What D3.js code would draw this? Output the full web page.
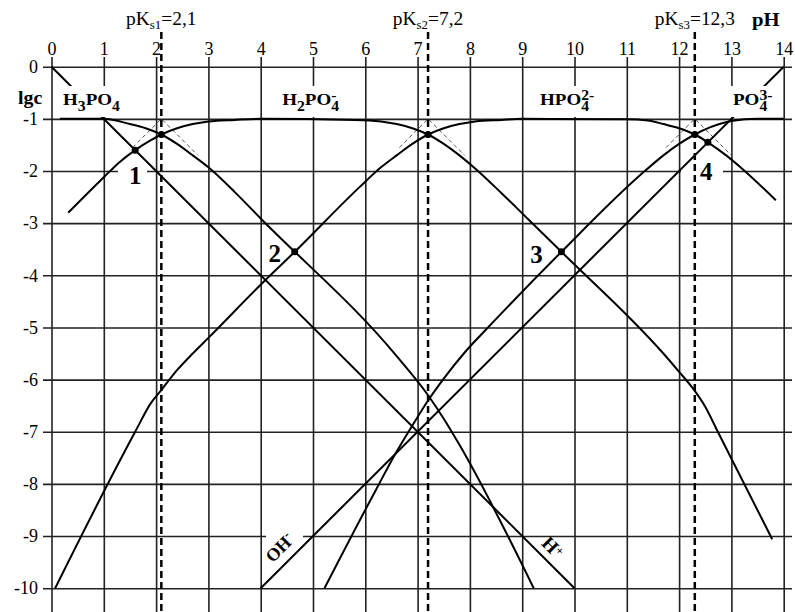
<!DOCTYPE html>
<html>
<head>
<meta charset="utf-8">
<script src="https://cdn.jsdelivr.net/npm/d3@7"></script>
<style>
body{margin:0;background:#fff}
svg{display:block}
text{font-family:"Liberation Serif","Times New Roman",serif}
</style>
</head>
<body>
<div id="chart"></div>
<script>
// ticks
var phTicks = d3.range(0, 15);
var lgTicks = d3.range(0, -11, -1);

// acid constants shown on top
var pKs = [2.1, 7.2, 12.3];
var pKTexts = ["2,1", "7,2", "12,3"];

// species curves, [pH, lgc]
var h3po4 = [[0.16,-1],[1.0,-1.0],[1.5,-1.1],[1.8,-1.18],[2.1,-1.3],[2.4,-1.48],[2.7,-1.7],[3.0,-1.93],[3.5,-2.4],[4.0,-2.91],
             [6.6,-5.55],[7.2,-6.3],[7.5,-6.75],[7.8,-7.25],[9.22,-10]];
var h2po4 = [[0.32,-2.8],[1.0,-2.12],[1.3,-1.83],[1.6,-1.6],[1.9,-1.41],[2.1,-1.3],[2.4,-1.18],[2.7,-1.1],[3.0,-1.05],[3.5,-1.02],
             [4.0,-1.0],[5.8,-1.02],[6.3,-1.05],[6.6,-1.1],[6.9,-1.18],[7.2,-1.3],[7.5,-1.48],[7.8,-1.7],[8.1,-1.95],[8.6,-2.42],
             [9.1,-2.91],[9.75,-3.55],[11.7,-5.5],[12.0,-5.85],[12.25,-6.15],[12.5,-6.52],[12.75,-7.02],[13.78,-9.06]];
var hpo4 = [[0.07,-10],[1.6,-7.0],[1.9,-6.45],[2.1,-6.2],[2.4,-5.82],[2.7,-5.5],[3.0,-5.2],[4.0,-4.18],[4.65,-3.55],[5.9,-2.3],
            [6.3,-1.93],[6.6,-1.7],[6.9,-1.48],[7.2,-1.3],[7.5,-1.18],[7.8,-1.1],[8.1,-1.05],[8.6,-1.02],[9.0,-1.0],[11.0,-1.01],
            [11.4,-1.03],[11.7,-1.1],[12.0,-1.18],[12.3,-1.3],[12.55,-1.45],[12.9,-1.7],[13.2,-1.95],[13.85,-2.56]];
var po4 = [[5.22,-10],[6.2,-8.12],[6.6,-7.38],[6.9,-6.88],[7.2,-6.4],[7.5,-5.98],[7.9,-5.48],[8.3,-5.05],[9.75,-3.55],[11.3,-2.04],
           [11.7,-1.7],[12.0,-1.48],[12.3,-1.3],[12.6,-1.16],[13.0,-1.04],[13.5,-1.0],[14,-1]];

// water lines
var hLine = [[0,0],[10,-10]];
var ohLine = [[4,-10],[14,0]];

// thin dashed asymptotes near each pK
var asymptotes = [
  [[1.55,-1.55],[2.1,-1.0],[2.8,-1.7]],
  [[6.65,-1.55],[7.2,-1.0],[7.9,-1.7]],
  [[11.75,-1.55],[12.3,-1.0],[13.0,-1.7]]
];

// marked points
var pKDots = [[2.1,-1.3],[7.2,-1.3],[12.3,-1.3]];
var numDots = [[1.6,-1.6],[4.65,-3.55],[9.75,-3.55],[12.55,-1.45]];
var numTexts = ["1","2","3","4"];

var W = 795, H = 612;
var svg = d3.select("#chart").append("svg").attr("width", W).attr("height", H);
svg.append("rect").attr("width", W).attr("height", H).attr("fill", "#fff");

var x = d3.scaleLinear().domain([0, 14]).range([51.5, 783.7]);
var y = d3.scaleLinear().domain([0, -10]).range([66.7, 588.2]);

var gridTop = 57, gridBottom = 612, gridLeft = 43, gridRight = 792;
var serif = "Liberation Serif, Times New Roman, serif";

//////////////// grid with tick labels ////////////////
var xAxis = svg.append("g")
  .attr("transform", "translate(0," + gridTop + ")")
  .call(d3.axisTop(x).tickValues(phTicks).tickSizeInner(-(gridBottom - gridTop)).tickSizeOuter(0)
    .tickPadding(2).tickFormat(function(d){ return String(d); }));
var yAxis = svg.append("g")
  .attr("transform", "translate(" + gridLeft + ",0)")
  .call(d3.axisLeft(y).tickValues(lgTicks).tickSizeInner(-(gridRight - gridLeft)).tickSizeOuter(0)
    .tickPadding(5).tickFormat(function(d){ return String(d); }));

[xAxis, yAxis].forEach(function(a){
  a.select(".domain").remove();
  a.attr("font-size", 18).attr("font-family", serif);
  a.selectAll("line").attr("stroke", "#222").attr("stroke-width", 1.6);
  a.selectAll("text").attr("fill", "#000");
});

//////////////// gaps in grid for the small labels ////////////////
var gaps = svg.append("g").attr("fill", "#fff");
gaps.append("rect").attr("x", 118).attr("y", 160).attr("width", 29).attr("height", 22);
gaps.append("rect").attr("x", 681).attr("y", 160).attr("width", 42).attr("height", 22);
gaps.append("rect").attr("x", 266).attr("y", 529).attr("width", 37).attr("height", 14);

//////////////// asymptotes ////////////////
var lin = d3.line().x(function(d){ return x(d[0]); }).y(function(d){ return y(d[1]); });
svg.append("g").selectAll("path").data(asymptotes).join("path")
  .attr("d", lin)
  .attr("fill", "none").attr("stroke", "#555").attr("stroke-width", 1)
  .attr("stroke-dasharray", "4,3");

//////////////// curves ////////////////
var smooth = d3.line().curve(d3.curveMonotoneX)
  .x(function(d){ return x(d[0]); }).y(function(d){ return y(d[1]); });

svg.append("g").selectAll("path").data([h3po4, h2po4, hpo4, po4]).join("path")
  .attr("d", smooth)
  .attr("fill", "none").attr("stroke", "#000").attr("stroke-width", 2);

svg.append("g").selectAll("path").data([hLine, ohLine]).join("path")
  .attr("d", lin)
  .attr("fill", "none").attr("stroke", "#000").attr("stroke-width", 2);

//////////////// species labels ////////////////
var labelLayer = svg.append("g");

// k: 0 normal, 1 subscript, 2 superscript stacked over the preceding subscript
function species(parts, px, base, sx) {
  var g = labelLayer.append("g").attr("transform", "translate(" + px + "," + base + ") scale(" + sx + ",1)");
  var t = g.append("text").attr("font-weight", "bold").attr("font-size", 17).attr("fill", "#000");
  var cur = 0, lastSub = null;
  parts.forEach(function(p){
    var target = p[1] === 1 ? 6 : (p[1] === 2 ? -5 : 0);
    var ts = t.append("tspan").text(p[0]);
    if (p[1] !== 0) ts.attr("font-size", 14);
    if (target !== cur) ts.attr("dy", target - cur);
    if (p[1] === 2 && lastSub) ts.attr("dx", -lastSub.node().getComputedTextLength());
    cur = target;
    if (p[1] === 1) lastSub = ts;
  });
  var bb = g.node().getBBox();
  g.insert("rect", "text")
    .attr("x", bb.x - 2.5).attr("width", bb.width + 5)
    .attr("y", 86 - base).attr("height", 31)
    .attr("fill", "#fff");
}

species([["H",0],["3",1],["PO",0],["4",1]], x(0.22), 105, 1.12);
species([["H",0],["2",1],["PO",0],["4",1],["-",2]], x(4.41), 105, 1.12);
species([["HPO",0],["4",1],["2-",2]], x(9.34), 105, 1.12);
species([["PO",0],["4",1],["3-",2]], x(13.03), 105, 1.12);

//////////////// dots ////////////////
svg.append("g").selectAll("circle").data(pKDots.concat(numDots)).join("circle")
  .attr("cx", function(d){ return x(d[0]); })
  .attr("cy", function(d){ return y(d[1]); })
  .attr("r", 3.5).attr("fill", "#000");

//////////////// pK lines ////////////////
svg.append("g").selectAll("line").data(pKs).join("line")
  .attr("x1", function(d){ return x(d); }).attr("x2", function(d){ return x(d); })
  .attr("y1", 32).attr("y2", gridBottom)
  .attr("stroke", "#000").attr("stroke-width", 2.5).attr("stroke-dasharray", "7,4");

var pkLab = svg.append("g").selectAll("g").data(pKs).join("g")
  .attr("transform", function(d){ return "translate(" + x(d) + ",25) scale(1.08,1)"; })
  .append("text").attr("text-anchor", "middle").attr("font-size", 18).attr("fill", "#000");
pkLab.append("tspan").text("pK");
pkLab.append("tspan").attr("font-size", 12).attr("dy", 4).text(function(d, i){ return "s" + (i + 1); });
pkLab.append("tspan").attr("dy", -4).text(function(d, i){ return "=" + pKTexts[i]; });

//////////////// numbers ////////////////
var numOffsets = [[0, 34], [-20, 10.5], [-25, 11.5], [-1.5, 38]];
svg.append("g").selectAll("text").data(numDots).join("text")
  .attr("x", function(d, i){ return x(d[0]) + numOffsets[i][0]; })
  .attr("y", function(d, i){ return y(d[1]) + numOffsets[i][1]; })
  .attr("text-anchor", "middle").attr("font-weight", "bold").attr("font-size", 25).attr("fill", "#000")
  .text(function(d, i){ return numTexts[i]; });

//////////////// water labels ////////////////
var ohT = svg.append("text")
  .attr("transform", "translate(" + (x(4.57) - 6.4) + "," + (y(4.57 - 14) - 6.4) + ") rotate(-45)")
  .attr("text-anchor", "middle").attr("font-weight", "bold").attr("font-size", 18).attr("fill", "#000");
ohT.append("tspan").text("OH");
ohT.append("tspan").attr("font-size", 13).attr("dy", -7).text("-");

var hT = svg.append("text")
  .attr("transform", "translate(" + (x(9.4) + 5) + "," + (y(-9.4) - 5) + ") rotate(45)")
  .attr("text-anchor", "middle").attr("font-weight", "bold").attr("font-size", 19).attr("fill", "#000");
hT.append("tspan").text("H");
hT.append("tspan").attr("font-size", 12).attr("dy", -5).text("+");

//////////////// axis titles ////////////////
svg.append("text").attr("transform", "translate(752,26) scale(1.15,1)")
  .attr("font-weight", "bold").attr("font-size", 18).attr("fill", "#000").text("pH");
svg.append("text").attr("transform", "translate(18,104) scale(1.1,1)")
  .attr("font-weight", "bold").attr("font-size", 18).attr("fill", "#000").text("lgc");
</script>
</body>
</html>
